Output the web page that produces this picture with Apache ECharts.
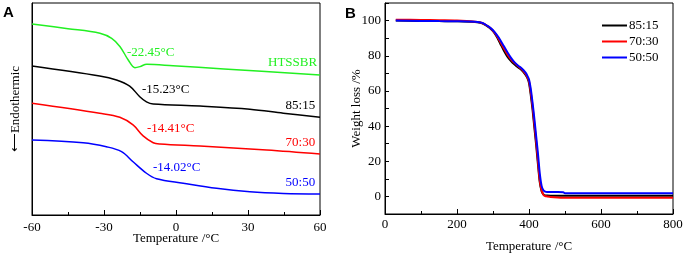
<!DOCTYPE html>
<html>
<head>
<meta charset="utf-8">
<script src="https://cdn.jsdelivr.net/npm/echarts@6/dist/echarts.min.js"></script>
<style>
html, body { margin: 0; padding: 0; background: #fff; }
#chart { width: 686px; height: 254px; }
</style>
</head>
<body>
<div id="chart"></div>
<script>
// panel A: DSC curves, heat flow in arbitrary units
var dscGreen = [[-60, 90.1], [-45, 87.9], [-31.7, 85.7], [-26.8, 83.3], [-23.3, 79.4], [-19.9, 73.1], [-17.1, 69.5], [-15, 70.0], [-12.2, 71.1], [-1.2, 70.4], [20, 68.9], [60, 66.0]];
var dscBlack = [[-60, 70.3], [-31.8, 65.6], [-24.8, 63.7], [-19.3, 60.8], [-15.1, 55.8], [-12.3, 53.4], [-9.5, 52.4], [10, 51.4], [30.8, 49.9], [44.7, 48.0], [60, 46.1]];
var dscRed = [[-60, 52.7], [-31.8, 48.0], [-23.4, 46.1], [-17.9, 42.5], [-13.7, 37.3], [-9.5, 34.1], [-6.7, 33.5], [10, 32.5], [37.8, 30.7], [60, 28.8]];
var dscBlue = [[-60, 35.4], [-38.7, 34.1], [-29, 32.2], [-22.7, 29.9], [-17.9, 25.1], [-12.3, 19.7], [-8.1, 17.1], [3, 15.0], [16.9, 12.6], [30.8, 11.0], [44.7, 10.2], [60, 9.9]];

// Tg annotations: [x, y, text], and sample names at right
var tgLabels = [[-20.4, 76.4, "-22.45°C"], [-14.2, 59.0, "-15.23°C"], [-12.1, 41.0, "-14.41°C"], [-9.6, 22.2, "-14.02°C"]];
var nameLabels = [[58.8, 71.7, "HTSSBR"], [58, 51.4, "85:15"], [58, 34.0, "70:30"], [58, 15.1, "50:50"]];

// panel B: TGA curves
var tgaTemp = [30, 100, 150, 200, 250, 270, 290, 300, 310, 320, 330, 340, 350, 360, 370, 380, 390, 395, 400, 405, 410, 415, 420, 425, 430, 435, 440, 445, 450, 460, 480, 495, 500, 600, 700, 800];
var tga8515 = [100, 99.8, 99.7, 99.6, 99.2, 98.5, 96, 94, 91, 87, 83, 79.5, 77, 75, 73.3, 71.8, 69.3, 67.5, 64.5, 57.5, 49, 39, 29, 18, 8, 3, 1.2, 0.6, 0.5, 0.4, 0.4, 0.4, 0.4, 0.4, 0.4, 0.4];
var tga7030 = [100.5, 100.4, 100.2, 100, 99.3, 98.6, 96.2, 94.2, 91.5, 88, 84.3, 80.8, 78, 75.8, 74, 72.3, 69.8, 68, 65.5, 59, 51, 41, 31, 20, 9, 3.5, 1, 0.2, 0, -0.3, -0.6, -0.7, -0.7, -0.7, -0.7, -0.7];
var tga5050 = [100, 99.8, 99.7, 99.6, 99.3, 98.7, 96.3, 94.5, 92, 89, 85.5, 82, 78.8, 76.2, 74.3, 72.8, 70.5, 68.8, 66.5, 61, 53, 44, 34, 24, 13, 6, 3.5, 2.7, 2.5, 2.5, 2.5, 2.4, 1.8, 1.8, 1.8, 1.8];

var serif = "Liberation Serif";
var colors = { green: "#22f022", black: "#000000", red: "#ff0000", blue: "#0000ff" };

function zip(xs, ys) {
    var out = [];
    for (var i = 0; i < xs.length; i++) out.push([xs[i], ys[i]]);
    return out;
}

function dscSeries(data, color, tg, nm) {
    return {
        type: "line",
        xAxisIndex: 0,
        yAxisIndex: 0,
        data: data,
        smooth: 0.35,
        symbol: "none",
        lineStyle: { color: color, width: 1.5 },
        markPoint: {
            symbol: "circle",
            symbolSize: 0,
            silent: true,
            label: {
                show: true,
                position: "inside",
                formatter: "{b}",
                color: color,
                fontFamily: serif,
                fontSize: 13,
                align: "left",
                verticalAlign: "middle"
            },
            data: [
                { name: tg[2], coord: [tg[0], tg[1]] },
                { name: nm[2], coord: [nm[0], nm[1]], label: { align: "right" } }
            ]
        }
    };
}

function tgaSeries(name, ys, color) {
    return {
        name: name,
        type: "line",
        xAxisIndex: 1,
        yAxisIndex: 1,
        data: zip(tgaTemp, ys),
        smooth: 0.3,
        symbol: "none",
        color: color,
        lineStyle: { color: color, width: 2 }
    };
}

var axisBase = {
    axisLine: { onZero: false, lineStyle: { color: "#000", width: 1 } },
    axisTick: { inside: true, length: 5, lineStyle: { color: "#000" } },
    splitLine: { show: false },
    axisLabel: { color: "#000", fontFamily: serif, fontSize: 13 },
    nameMoveOverlap: false,
    nameTextStyle: { color: "#000", fontFamily: serif, fontSize: 13 }
};

function ax(extra) {
    return echarts.util.merge(echarts.util.clone(axisBase), extra, true);
}

var chart = echarts.init(document.getElementById("chart"));

var option = {
    animation: false,
    backgroundColor: "#fff",
    title: [
        { text: "A", left: 3, top: 5, padding: 0, textStyle: { fontFamily: "Liberation Sans", fontWeight: "bold", fontSize: 15, color: "#000" } },
        { text: "B", left: 345, top: 6, padding: 0, textStyle: { fontFamily: "Liberation Sans", fontWeight: "bold", fontSize: 15, color: "#000" } }
    ],
    grid: [
        { left: 32, width: 288, top: 3, height: 212, outerBoundsMode: "none", containLabel: false, show: true, borderColor: "#000", borderWidth: 1 },
        { left: 385, width: 288, top: 3, height: 211, outerBoundsMode: "none", containLabel: false, show: true, borderColor: "#000", borderWidth: 1 }
    ],
    legend: {
        orient: "vertical",
        left: 597,
        top: 14,
        itemWidth: 25,
        itemHeight: 2,
        itemGap: 3,
        icon: "rect",
        textStyle: { fontFamily: serif, fontSize: 13, color: "#000", padding: [0, 0, 0, -3] },
        data: ["85:15", "70:30", "50:50"]
    },
    xAxis: [
        ax({
            type: "value", gridIndex: 0, min: -60, max: 60, interval: 30,
            minorTick: { show: true, splitNumber: 2, length: 3, lineStyle: { color: "#000" } },
            axisLabel: { margin: 6 },
            name: "Temperature /°C", nameLocation: "middle", nameGap: 17
        }),
        ax({
            type: "value", gridIndex: 1, min: 0, max: 800, interval: 200,
            minorTick: { show: true, splitNumber: 2, length: 3, lineStyle: { color: "#000" } },
            axisLabel: { margin: 4 },
            name: "Temperature /°C", nameLocation: "middle", nameGap: 26
        })
    ],
    yAxis: [
        ax({
            type: "value", gridIndex: 0, min: 0, max: 100,
            axisTick: { show: false },
            axisLabel: { show: false },
            name: "\u27f5Endothermic", nameLocation: "middle", nameGap: 10, nameRotate: 90
        }),
        ax({
            type: "value", gridIndex: 1, min: -10, max: 110, interval: 10,
            axisLabel: {
                margin: 4,
                formatter: function (v) { return (v >= 0 && v <= 100 && v % 20 === 0) ? String(v) : ""; }
            },
            axisTick: { length: 4 },
            name: "Weight loss /%", nameLocation: "middle", nameGap: 22, nameRotate: 90
        })
    ],
    series: [
        dscSeries(dscGreen, colors.green, tgLabels[0], nameLabels[0]),
        dscSeries(dscBlack, colors.black, tgLabels[1], nameLabels[1]),
        dscSeries(dscRed, colors.red, tgLabels[2], nameLabels[2]),
        dscSeries(dscBlue, colors.blue, tgLabels[3], nameLabels[3]),
        tgaSeries("85:15", tga8515, colors.black),
        tgaSeries("70:30", tga7030, colors.red),
        tgaSeries("50:50", tga5050, colors.blue)
    ]
};

chart.setOption(option);
</script>
</body>
</html>
